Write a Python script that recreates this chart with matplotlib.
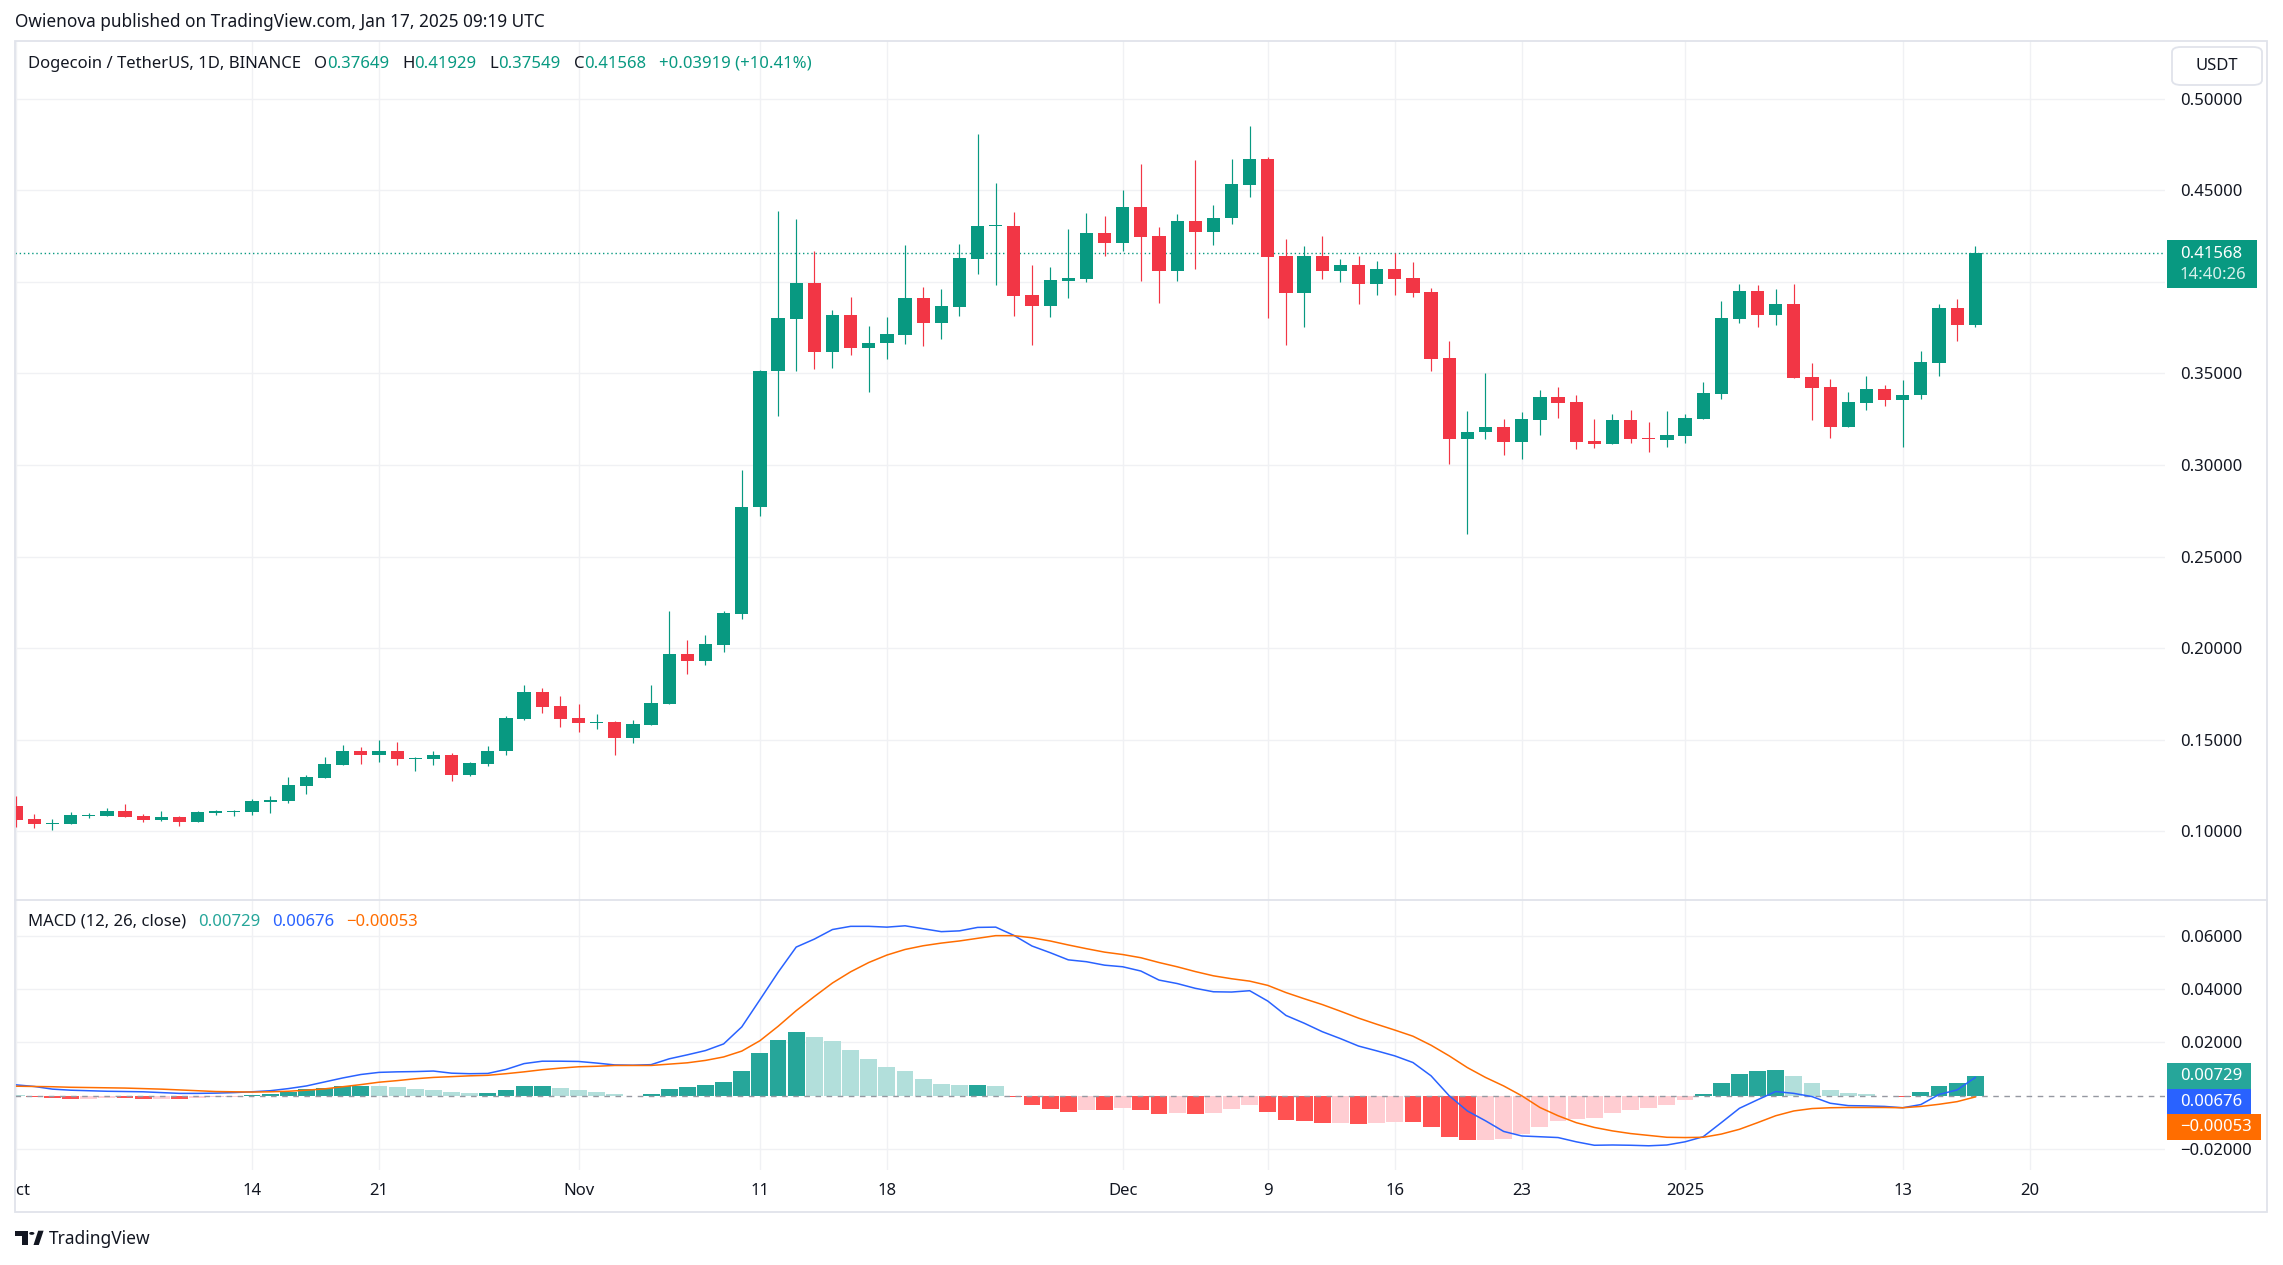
import matplotlib
matplotlib.use("Agg")
import matplotlib.pyplot as plt
from matplotlib.patches import Rectangle, FancyBboxPatch, Circle, Polygon
from matplotlib.lines import Line2D
import numpy as np
import pandas as pd

# ---- data (DOGE/USDT daily, Binance) ----
start_date = "2024-10-01"

opens = [0.1139, 0.1068, 0.1042, 0.1042, 0.1084, 0.1084, 0.1111, 0.1084, 0.1062, 0.1078,
         0.1051, 0.1100, 0.1106, 0.1106, 0.1161, 0.1166, 0.1249, 0.1293, 0.1364, 0.1441,
         0.1414, 0.1436, 0.1392, 0.1392, 0.1419, 0.1309, 0.1370, 0.1436, 0.1612, 0.1760,
         0.1683, 0.1617, 0.1590, 0.1595, 0.1507, 0.1579, 0.1694, 0.1969, 0.1930, 0.2018,
         0.2185, 0.2771, 0.3510, 0.3797, 0.3991, 0.3619, 0.3816, 0.3637, 0.3664, 0.3708,
         0.3910, 0.3774, 0.3862, 0.4126, 0.4303, 0.4305, 0.3926, 0.3866, 0.4005, 0.4014,
         0.4267, 0.4213, 0.4409, 0.4250, 0.4059, 0.4332, 0.4269, 0.4346, 0.4527, 0.4668,
         0.4141, 0.3941, 0.4141, 0.4061, 0.4092, 0.3985, 0.4070, 0.4021, 0.3945, 0.3584,
         0.3143, 0.3177, 0.3207, 0.3127, 0.3247, 0.3371, 0.3344, 0.3131, 0.3116, 0.3245,
         0.3147, 0.3138, 0.3160, 0.3251, 0.3389, 0.3799, 0.3950, 0.3821, 0.3879, 0.3480,
         0.3426, 0.3209, 0.3338, 0.3415, 0.3356, 0.3380, 0.3559, 0.3857, 0.37649]
highs = [0.1194, 0.1095, 0.1066, 0.1106, 0.1100, 0.1128, 0.1150, 0.1095, 0.1111, 0.1084,
         0.1111, 0.1117, 0.1117, 0.1177, 0.1194, 0.1298, 0.1309, 0.1408, 0.1469, 0.1458,
         0.1496, 0.1485, 0.1408, 0.1436, 0.1430, 0.1381, 0.1463, 0.1628, 0.1798, 0.1782,
         0.1738, 0.1694, 0.1639, 0.1600, 0.1606, 0.1798, 0.2200, 0.2046, 0.2073, 0.2205,
         0.2974, 0.3520, 0.4388, 0.4344, 0.4169, 0.3847, 0.3914, 0.3756, 0.3810, 0.4201,
         0.3970, 0.3958, 0.4207, 0.4804, 0.4540, 0.4382, 0.4091, 0.4080, 0.4288, 0.4377,
         0.4360, 0.4500, 0.4641, 0.4300, 0.4371, 0.4662, 0.4421, 0.4668, 0.4849, 0.4680,
         0.4234, 0.4196, 0.4250, 0.4125, 0.4141, 0.4114, 0.4158, 0.4108, 0.3966, 0.3677,
         0.3295, 0.3502, 0.3251, 0.3289, 0.3409, 0.3426, 0.3382, 0.3251, 0.3278, 0.3300,
         0.3234, 0.3295, 0.3278, 0.3453, 0.3895, 0.3988, 0.3983, 0.3961, 0.3988, 0.3557,
         0.3469, 0.3398, 0.3486, 0.3437, 0.3464, 0.3622, 0.3879, 0.3906, 0.41929]
lows = [0.1024, 0.1020, 0.1009, 0.1042, 0.1075, 0.1083, 0.1077, 0.1051, 0.1057, 0.1029,
        0.1050, 0.1091, 0.1084, 0.1091, 0.1100, 0.1155, 0.1205, 0.1292, 0.1363, 0.1370,
        0.1381, 0.1364, 0.1331, 0.1364, 0.1276, 0.1304, 0.1359, 0.1414, 0.1606, 0.1645,
        0.1568, 0.1540, 0.1557, 0.1419, 0.1480, 0.1579, 0.1694, 0.1859, 0.1908, 0.1980,
        0.2157, 0.2720, 0.3267, 0.3510, 0.3521, 0.3527, 0.3598, 0.3400, 0.3577, 0.3658,
        0.3648, 0.3689, 0.3812, 0.4043, 0.3984, 0.3812, 0.3654, 0.3806, 0.3912, 0.3999,
        0.4142, 0.4165, 0.4003, 0.3883, 0.4003, 0.4070, 0.4203, 0.4313, 0.4465, 0.3802,
        0.3655, 0.3753, 0.4016, 0.3996, 0.3881, 0.3930, 0.3930, 0.3914, 0.3515, 0.3007,
        0.2624, 0.3143, 0.3056, 0.3034, 0.3165, 0.3258, 0.3089, 0.3094, 0.3114, 0.3121,
        0.3072, 0.3100, 0.3121, 0.3250, 0.3362, 0.3772, 0.3755, 0.3766, 0.3477, 0.3247,
        0.3149, 0.3209, 0.3300, 0.3324, 0.3100, 0.3362, 0.3488, 0.3679, 0.37549]
closes = [0.1062, 0.1042, 0.1047, 0.1089, 0.1091, 0.1111, 0.1078, 0.1062, 0.1078, 0.1051,
          0.1106, 0.1111, 0.1113, 0.1166, 0.1172, 0.1254, 0.1298, 0.1370, 0.1441, 0.1414,
          0.1436, 0.1392, 0.1397, 0.1419, 0.1309, 0.1375, 0.1441, 0.1617, 0.1760, 0.1678,
          0.1612, 0.1590, 0.1595, 0.1507, 0.1584, 0.1700, 0.1969, 0.1930, 0.2024, 0.2190,
          0.2771, 0.3513, 0.3800, 0.3991, 0.3619, 0.3816, 0.3637, 0.3668, 0.3712, 0.3910,
          0.3774, 0.3866, 0.4130, 0.4305, 0.4307, 0.3922, 0.3866, 0.4009, 0.4018, 0.4267,
          0.4213, 0.4409, 0.4246, 0.4059, 0.4332, 0.4269, 0.4350, 0.4531, 0.4668, 0.4136,
          0.3941, 0.4141, 0.4061, 0.4092, 0.3985, 0.4070, 0.4017, 0.3941, 0.3580, 0.3143,
          0.3180, 0.3207, 0.3127, 0.3251, 0.3371, 0.3340, 0.3127, 0.3116, 0.3245, 0.3143,
          0.3143, 0.3163, 0.3256, 0.3393, 0.3803, 0.3950, 0.3821, 0.3879, 0.3477, 0.3422,
          0.3209, 0.3344, 0.3415, 0.3356, 0.3382, 0.3562, 0.3857, 0.37649, 0.41568]

hist = [0.0003, -0.0005, -0.0009, -0.0013, -0.0012, -0.0010, -0.0011, -0.0013, -0.0012, -0.0013,
        -0.0008, -0.0005, -0.0004, 0.0002, 0.0006, 0.0014, 0.0023, 0.0028, 0.0034, 0.0036,
        0.0035, 0.0031, 0.0024, 0.0020, 0.0013, 0.0009, 0.0010, 0.0020, 0.0034, 0.0036,
        0.0028, 0.0020, 0.0013, 0.0005, -0.0003, 0.0005, 0.0024, 0.0031, 0.0039, 0.0050,
        0.0092, 0.0159, 0.0208, 0.0238, 0.0219, 0.0204, 0.0171, 0.0137, 0.0107, 0.0092,
        0.0061, 0.0043, 0.0039, 0.0040, 0.0035, -0.0005, -0.0035, -0.0051, -0.0061, -0.0054,
        -0.0055, -0.0046, -0.0054, -0.0069, -0.0065, -0.0070, -0.0065, -0.0050, -0.0035, -0.0061,
        -0.0092, -0.0095, -0.0103, -0.0102, -0.0107, -0.0103, -0.0099, -0.0100, -0.0118, -0.0157,
        -0.0167, -0.0166, -0.0163, -0.0144, -0.0118, -0.0095, -0.0089, -0.0084, -0.0065, -0.0054,
        -0.0046, -0.0035, -0.0016, 0.0005, 0.0046, 0.0080, 0.0092, 0.0095, 0.0073, 0.0046,
        0.0020, 0.0009, 0.0005, -0.0003, -0.0004, 0.0013, 0.0035, 0.0046, 0.00729]
macd_line = [0.0040, 0.0034, 0.0024, 0.0020, 0.0018, 0.0016, 0.0015, 0.0014, 0.0011, 0.0008,
             0.0008, 0.0009, 0.0011, 0.0014, 0.0018, 0.0026, 0.0036, 0.0051, 0.0066, 0.0079,
             0.0087, 0.0089, 0.0090, 0.0092, 0.0084, 0.0082, 0.0083, 0.0098, 0.0120, 0.0129,
             0.0129, 0.0128, 0.0122, 0.0115, 0.0114, 0.0116, 0.0138, 0.0153, 0.0169, 0.0194,
             0.0258, 0.0360, 0.0463, 0.0558, 0.0588, 0.0624, 0.0636, 0.0636, 0.0633, 0.0638,
             0.0627, 0.0616, 0.0619, 0.0632, 0.0633, 0.0602, 0.0562, 0.0537, 0.0510, 0.0503,
             0.0490, 0.0484, 0.0468, 0.0434, 0.0421, 0.0403, 0.0390, 0.0389, 0.0394, 0.0355,
             0.0301, 0.0272, 0.0240, 0.0214, 0.0186, 0.0168, 0.0149, 0.0124, 0.0074, -0.0001,
             -0.0058, -0.0095, -0.0135, -0.0152, -0.0155, -0.0158, -0.0174, -0.0187, -0.0186, -0.0187,
             -0.0189, -0.0186, -0.0174, -0.0155, -0.0102, -0.0048, -0.0016, 0.0015, 0.0008, -0.0004,
             -0.0029, -0.0038, -0.0039, -0.0041, -0.0046, -0.0034, 0.0004, 0.0021, 0.00676]
signal_line = [0.0035, 0.0034, 0.0033, 0.0031, 0.0030, 0.0029, 0.0028, 0.0026, 0.0024, 0.0021,
               0.0018, 0.0015, 0.0014, 0.0013, 0.0014, 0.0016, 0.0020, 0.0025, 0.0033, 0.0041,
               0.0050, 0.0056, 0.0063, 0.0068, 0.0071, 0.0074, 0.0076, 0.0082, 0.0089, 0.0097,
               0.0103, 0.0108, 0.0110, 0.0113, 0.0113, 0.0113, 0.0118, 0.0123, 0.0132, 0.0145,
               0.0167, 0.0206, 0.0260, 0.0319, 0.0372, 0.0423, 0.0465, 0.0500, 0.0528, 0.0549,
               0.0563, 0.0573, 0.0581, 0.0591, 0.0601, 0.0601, 0.0593, 0.0581, 0.0566, 0.0552,
               0.0539, 0.0530, 0.0518, 0.0500, 0.0484, 0.0466, 0.0450, 0.0439, 0.0430, 0.0414,
               0.0387, 0.0364, 0.0342, 0.0317, 0.0291, 0.0268, 0.0246, 0.0223, 0.0189, 0.0149,
               0.0105, 0.0068, 0.0036, -0.0001, -0.0045, -0.0076, -0.0102, -0.0120, -0.0133, -0.0143,
               -0.0150, -0.0157, -0.0158, -0.0157, -0.0145, -0.0127, -0.0102, -0.0076, -0.0058, -0.0049,
               -0.0046, -0.0045, -0.0045, -0.0045, -0.0046, -0.0041, -0.0033, -0.0023, -0.00053]

tick_dates = ["2024-10-01", "2024-10-14", "2024-10-21", "2024-11-01", "2024-11-11", "2024-11-18",
              "2024-12-01", "2024-12-09", "2024-12-16", "2024-12-23", "2025-01-01", "2025-01-13",
              "2025-01-20"]
tick_labels = ["Oct", "14", "21", "Nov", "11", "18", "Dec", "9", "16", "23", "2025", "13", "20"]
price_ticks = [0.10, 0.15, 0.20, 0.25, 0.30, 0.35, 0.40, 0.45, 0.50]
macd_ticks = [-0.02, 0.0, 0.02, 0.04, 0.06]
countdown = "14:40:26"
published = "Owienova published on TradingView.com, Jan 17, 2025 09:19 UTC"
symbol = "Dogecoin / TetherUS, 1D, BINANCE"

# ---- style ----
W, H = 2283, 1265
plt.rcParams["font.family"] = ["Noto Sans", "DejaVu Sans"]
UP, DOWN = "#089981", "#F23645"
H_UP, H_UP2, H_DN, H_DN2 = "#26A69A", "#B2DFDB", "#FF5252", "#FFCDD2"
BLUE, ORANGE = "#2962FF", "#FF6D00"
TXT = "#131722"
GRID = "#F0F1F4"
BORDER = "#E0E3EB"
FS = 12


def fmt(v):
    return f"{v:.5f}".replace("-", "\u2212")


def box(x0, y0, x1, y1):
    # pixel box (top-left origin) -> figure fraction rect
    return [x0 / W, 1 - y1 / H, (x1 - x0) / W, (y1 - y0) / H]


fig = plt.figure(figsize=(W / 100, H / 100), dpi=100)
fig.patch.set_facecolor("white")
rend = fig.canvas.get_renderer()

ax = fig.add_axes(box(15, 41, 2165, 900))
mx = fig.add_axes(box(15, 900, 2165, 1170))
tx = fig.add_axes(box(15, 1170, 2165, 1212))

dates = pd.date_range(start_date, periods=len(closes), freq="D")
x = np.arange(len(dates))
tick_pos = (pd.to_datetime(tick_dates) - dates[0]).days.values
XMIN, XMAX = -0.066, 118.46

for a in (ax, mx):
    a.set_xlim(XMIN, XMAX)
    for s in a.spines.values():
        s.set_visible(False)
    a.yaxis.tick_right()
    a.set_xticks(tick_pos)
    a.tick_params(axis="x", length=0, labelbottom=False)
    a.tick_params(axis="y", length=0, pad=10.8, labelsize=FS, labelcolor=TXT)
    a.grid(True, color=GRID, lw=1.0)
    a.set_axisbelow(True)

# ---- candles ----
o, h, l, c = map(np.array, (opens, highs, lows, closes))
cols = np.where(c >= o, UP, DOWN)
ax.vlines(x, l, h, colors=cols, lw=0.85, zorder=2)
ax.bar(x, np.maximum(np.abs(c - o), 0.0006), bottom=np.minimum(o, c), width=0.73,
       color=cols, lw=0, zorder=3)
ax.axhline(c[-1], color=UP, lw=1.0, ls=(0, (1, 2)), zorder=1)
ax.set_ylim(0.0625, 0.5314)
ax.set_yticks(price_ticks)
ax.set_yticklabels([fmt(v) for v in price_ticks])

# ---- MACD ----
hv = np.array(hist)
prev = np.concatenate([[hv[0]], hv[:-1]])
hcols = np.where(hv >= 0, np.where(hv > prev, H_UP, H_UP2), np.where(hv < prev, H_DN, H_DN2))
mx.bar(x, hv, width=0.93, color=hcols, lw=0, zorder=2)
mx.axhline(0, color="#9598A1", lw=1.0, ls=(0, (4, 4)), zorder=3)
mx.plot(x, macd_line, color=BLUE, lw=1.1, zorder=4)
mx.plot(x, signal_line, color=ORANGE, lw=1.1, zorder=4)
mx.set_ylim(-0.0280, 0.0735)
mx.set_yticks(macd_ticks)
mx.set_yticklabels([fmt(v) for v in macd_ticks])
for gl, v in zip(mx.get_ygridlines(), macd_ticks):
    if v == 0:
        gl.set_visible(False)

# ---- time axis labels (clipped at the pane edge like the original) ----
tx.set_xlim(XMIN, XMAX)
tx.set_ylim(0, 1)
tx.axis("off")
for p, lab in zip(tick_pos, tick_labels):
    t = tx.text(p, 0.5, lab, ha="center", va="center", fontsize=FS, color=TXT)
    t.set_clip_box(tx.bbox)
    t.set_clip_on(True)

# ---- frame ----
fig.add_artist(Rectangle((15 / W, 1 - 1212 / H), 2252 / W, 1171 / H, transform=fig.transFigure,
                         fill=False, ec=BORDER, lw=1.3, zorder=5))
fig.add_artist(Line2D([15 / W, 2267 / W], [1 - 900 / H] * 2, transform=fig.transFigure,
                      color=BORDER, lw=1.3, zorder=5))


def text_run(x0, y, pieces, size=FS):
    xx = x0
    for s, col, gap in pieces:
        t = fig.text(xx / W, 1 - y / H, s, color=col, fontsize=size, ha="left", va="center")
        xx += t.get_window_extent(rend).width + gap


fig.text(15 / W, 1 - 22 / H, published, fontsize=12.4, color=TXT, ha="left", va="center")

chg = closes[-1] - closes[-2]
pct = chg / closes[-2] * 100
text_run(28, 64, [(symbol, TXT, 13),
                  ("O", TXT, 0), (f"{opens[-1]:.5f}", UP, 13),
                  ("H", TXT, 0), (f"{highs[-1]:.5f}", UP, 13),
                  ("L", TXT, 0), (f"{lows[-1]:.5f}", UP, 13),
                  ("C", TXT, 0), (f"{closes[-1]:.5f}", UP, 13),
                  (f"+{chg:.5f} (+{pct:.2f}%)", UP, 0)])
text_run(28, 922, [("MACD (12, 26, close)", TXT, 12),
                   (fmt(hist[-1]), H_UP, 12),
                   (fmt(macd_line[-1]), BLUE, 12),
                   (fmt(signal_line[-1]), ORANGE, 0)])

# ---- USDT button ----
fig.add_artist(FancyBboxPatch((2172 / W, 1 - 85 / H), 90 / W, 38 / H, transform=fig.transFigure,
                              boxstyle="round,pad=0,rounding_size=0.004", fc="white",
                              ec=BORDER, lw=1.3, zorder=6))
fig.text(2217 / W, 1 - 66 / H, "USDT", fontsize=FS, color=TXT, ha="center", va="center", zorder=7)


# ---- last value tags on the scales ----
def ypix(a, v):
    return H - a.transData.transform((0, v))[1]


def hide_covered(a, ticks, top, bottom):
    # scale labels sitting under a value tag are not drawn, as on the original
    for lab, v in zip(a.get_yticklabels(), ticks):
        yy = ypix(a, v)
        if top - 8 < yy < bottom + 8:
            lab.set_visible(False)


yp = ypix(ax, closes[-1])
fig.add_artist(Rectangle((2167 / W, 1 - (yp + 35) / H), 90 / W, 48 / H, transform=fig.transFigure,
                         fc=UP, ec="none", zorder=6))
fig.text(2180 / W, 1 - (yp + 1) / H, f"{closes[-1]:.5f}", fontsize=FS, color="white",
         ha="left", va="center", zorder=7)
fig.text(2180 / W, 1 - (yp + 22) / H, countdown, fontsize=FS, color="#D6F0EB",
         ha="left", va="center", zorder=7)
hide_covered(ax, price_ticks, yp - 13, yp + 35)

yh = ypix(mx, hist[-1])
tags = [(hist[-1], H_UP), (macd_line[-1], BLUE), (signal_line[-1], ORANGE)]
for k, (v, col) in enumerate(tags):
    yc = yh + 25.5 * k
    t = fig.text(2180 / W, 1 - yc / H, fmt(v), fontsize=FS, color="white", ha="left", va="center",
                 zorder=7)
    wpx = t.get_window_extent(rend).width
    fig.add_artist(Rectangle((2167 / W, 1 - (yc + 12.8) / H), (wpx + 22) / W, 25.6 / H,
                             transform=fig.transFigure, fc=col, ec="none", zorder=6))
hide_covered(mx, macd_ticks, yh - 12.8, yh + 25.5 * (len(tags) - 1) + 12.8)

# ---- TradingView logo ----
logo = "#131722"
for px0, py0, px1, py1 in [(15, 1230.7, 28.3, 1235.7), (21.7, 1230.7, 28.3, 1245)]:
    fig.add_artist(Rectangle((px0 / W, 1 - py1 / H), (px1 - px0) / W, (py1 - py0) / H,
                             transform=fig.transFigure, fc=logo, ec="none"))
fig.add_artist(Circle((31.8 / W, 1 - 1233.4 / H), 2.6 / W, transform=fig.transFigure,
                      fc=logo, ec="none"))
fig.add_artist(Polygon([(33.5 / W, 1 - 1245 / H), (38.8 / W, 1 - 1245 / H),
                        (43.6 / W, 1 - 1230.7 / H), (38.2 / W, 1 - 1230.7 / H)],
                       closed=True, transform=fig.transFigure, fc=logo, ec="none"))
fig.text(49 / W, 1 - 1239 / H, "TradingView", fontsize=12.5, color=TXT, ha="left", va="center")

fig.savefig("out.png", dpi=100, facecolor="white")
